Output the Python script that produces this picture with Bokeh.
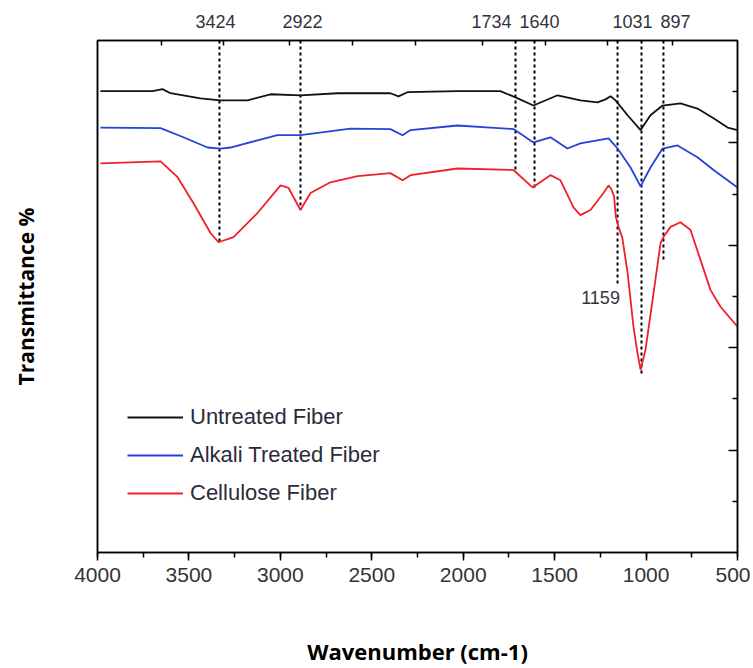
from bokeh.plotting import figure
from bokeh.models import (Range1d, LinearAxis, FixedTicker, SingleIntervalTicker,
                          Legend, LegendItem, ColumnDataSource)
from bokeh.embed import file_html
from bokeh.resources import INLINE
from bokeh.core.properties import value

# ---------------- data ----------------
untreated_wn = [3984, 3700, 3672, 3645, 3601, 3437, 3327, 3180, 3054, 2890, 2687, 2545,
                2398, 2354, 2305, 2031, 1851, 1797, 1714, 1616, 1484, 1359, 1266, 1222,
                1194, 1167, 1101, 1030, 976, 910, 812, 719, 631, 554, 500]
untreated_t = [90.1, 90.1, 90.3, 90.5, 89.7, 88.7, 88.3, 88.3, 89.5, 89.3, 89.7, 89.7,
               89.7, 89.1, 89.9, 90.1, 90.1, 90.1, 88.9, 87.3, 89.3, 88.3, 87.9, 88.5,
               89.1, 88.3, 85.4, 82.5, 85.4, 87.3, 87.7, 86.7, 84.8, 83.0, 82.5]

alkali_wn = [3984, 3655, 3530, 3398, 3327, 3273, 3125, 3016, 2890, 2616, 2398, 2332,
             2288, 2031, 1851, 1725, 1616, 1523, 1430, 1359, 1205, 1156, 1085, 1030,
             976, 910, 828, 719, 631, 500]
alkali_t = [83.0, 82.9, 81.1, 79.1, 78.9, 79.1, 80.5, 81.5, 81.5, 82.8, 82.7, 81.5,
            82.5, 83.4, 83.0, 82.7, 80.1, 81.1, 78.9, 79.9, 80.9, 78.9, 75.2, 71.5,
            75.2, 78.9, 79.5, 77.2, 74.7, 71.3]

cellulose_wn = [3984, 3655, 3562, 3475, 3382, 3338, 3256, 3125, 2999, 2955, 2890, 2835,
                2726, 2578, 2398, 2332, 2288, 2031, 1725, 1621, 1523, 1468, 1397, 1359,
                1304, 1233, 1205, 1190, 1175, 1165, 1150, 1130, 1101, 1069, 1047, 1030,
                1003, 959, 921, 905, 866, 812, 757, 702, 648, 593, 500]
cellulose_t = [76.0, 76.4, 73.3, 68.2, 62.4, 60.6, 61.6, 66.3, 71.7, 71.2, 66.9, 70.2,
               72.3, 73.5, 74.1, 72.7, 73.7, 75.0, 74.7, 71.3, 73.7, 72.7, 67.4, 65.9,
               66.9, 70.2, 71.7, 71.0, 69.5, 65.5, 63.5, 61.5, 54.6, 44.1, 39.0, 35.7,
               39.6, 50.7, 60.4, 61.6, 63.6, 64.5, 63.0, 57.1, 51.3, 48.0, 44.1]

series_names = ["Untreated Fiber", "Alkali Treated Fiber", "Cellulose Fiber"]
series_colors = ["#111111", "#2343d8", "#f0202a"]

# peak marker lines (drawn position, lower end) and their labels
peak_line_wn = [3333, 2890, 1714, 1610, 1156, 1025, 905]
peak_line_end = [60.6, 66.9, 74.7, 71.3, 52.2, 34.7, 56.7]
top_label_wn = [3355, 2879, 1845, 1583, 1074, 839]
top_label_text = ["3424", "2922", "1734", "1640", "1031", "897"]
side_label_wn = [1249]
side_label_t = [49.9]
side_label_text = ["1159"]

top_minor_ticks = [3650, 3311, 2950, 2605, 2261, 1894, 1550, 1211, 856]
right_major_ticks = [20, 40, 60, 80]
right_minor_ticks = [10, 30, 50, 70, 90]

# ---------------- figure ----------------
p = figure(width=750, height=668, x_range=Range1d(4000, 500), y_range=Range1d(0, 100),
           output_backend="svg", toolbar_location=None,
           x_axis_location=None, y_axis_location=None,
           min_border_left=97, min_border_right=13, min_border_top=40, min_border_bottom=115)
p.xgrid.visible = False
p.ygrid.visible = False
p.outline_line_color = "black"
p.outline_line_width = 1.5
p.background_fill_color = "white"
p.border_fill_color = "white"

tick_font = "Liberation Sans"

xaxis = LinearAxis(ticker=SingleIntervalTicker(interval=500, num_minor_ticks=2),
                   axis_label="Wavenumber (cm-1)")
xaxis.major_tick_in = 0
xaxis.major_tick_out = 8
xaxis.minor_tick_in = 0
xaxis.minor_tick_out = 5
xaxis.major_label_text_font = tick_font
xaxis.major_label_text_font_size = "21px"
xaxis.major_label_text_color = "#333333"
xaxis.major_label_standoff = 7
xaxis.axis_label_text_font = "Open Sans"
xaxis.axis_label_text_font_style = "bold"
xaxis.axis_label_text_font_size = "22px"
xaxis.axis_label_text_color = "black"
xaxis.axis_label_standoff = 51
xaxis.axis_line_width = 1.5
xaxis.major_tick_line_width = 1.5
xaxis.minor_tick_line_width = 1.5
p.add_layout(xaxis, "below")

yaxis = LinearAxis(ticker=FixedTicker(ticks=[]), axis_label="Transmittance %")
yaxis.axis_line_width = 1.5
yaxis.axis_label_text_font = "Open Sans"
yaxis.axis_label_text_font_style = "bold"
yaxis.axis_label_text_font_size = "21px"
yaxis.axis_label_text_color = "black"
yaxis.axis_label_standoff = 58
p.add_layout(yaxis, "left")

top_axis = LinearAxis(ticker=FixedTicker(ticks=top_label_wn, minor_ticks=top_minor_ticks),
                      major_label_overrides={k: v for k, v in zip(top_label_wn, top_label_text)})
top_axis.major_tick_in = 0
top_axis.major_tick_out = 0
top_axis.minor_tick_in = 5
top_axis.minor_tick_out = 0
top_axis.axis_line_width = 1.5
top_axis.minor_tick_line_width = 1.5
top_axis.major_label_standoff = 13
top_axis.major_label_text_font = tick_font
top_axis.major_label_text_font_size = "18px"
top_axis.major_label_text_color = "#333340"
p.add_layout(top_axis, "above")

right_axis = LinearAxis(ticker=FixedTicker(ticks=right_major_ticks, minor_ticks=right_minor_ticks),
                        major_label_overrides={k: "" for k in right_major_ticks})
right_axis.major_tick_in = 9
right_axis.major_tick_out = 0
right_axis.minor_tick_in = 5
right_axis.minor_tick_out = 0
right_axis.major_label_standoff = 0
right_axis.axis_line_width = 1.5
right_axis.major_tick_line_width = 1.5
right_axis.minor_tick_line_width = 1.5
p.add_layout(right_axis, "right")

# peak marker lines
peak_src = ColumnDataSource(dict(x=peak_line_wn, y0=[100] * len(peak_line_wn), y1=peak_line_end))
p.segment(x0="x", y0="y0", x1="x", y1="y1", source=peak_src,
          line_color="black", line_width=2, line_dash="3 3")

# spectra
renderers = []
for wn, t, col in zip([untreated_wn, alkali_wn, cellulose_wn],
                      [untreated_t, alkali_t, cellulose_t], series_colors):
    r = p.line(wn, t, line_color=col, line_width=1.8)
    renderers.append(r)

# side label 1159
p.text(x=side_label_wn, y=side_label_t, text=side_label_text,
       text_font=value(tick_font), text_font_size="18px", text_color="#333340",
       text_align="center", text_baseline="middle")

legend = Legend(items=[LegendItem(label=n, renderers=[r]) for n, r in zip(series_names, renderers)],
                location=(30, 46))
legend.padding = 0
legend.margin = 0
legend.spacing = 12
legend.label_height = 20
legend.glyph_height = 20
legend.glyph_width = 56
legend.label_standoff = 7
legend.label_text_font = tick_font
legend.label_text_font_size = "22px"
legend.label_text_color = "#2b2b3b"
legend.border_line_color = None
legend.background_fill_alpha = 0
p.add_layout(legend)

open("out.html", "w").write(file_html(p, INLINE))
